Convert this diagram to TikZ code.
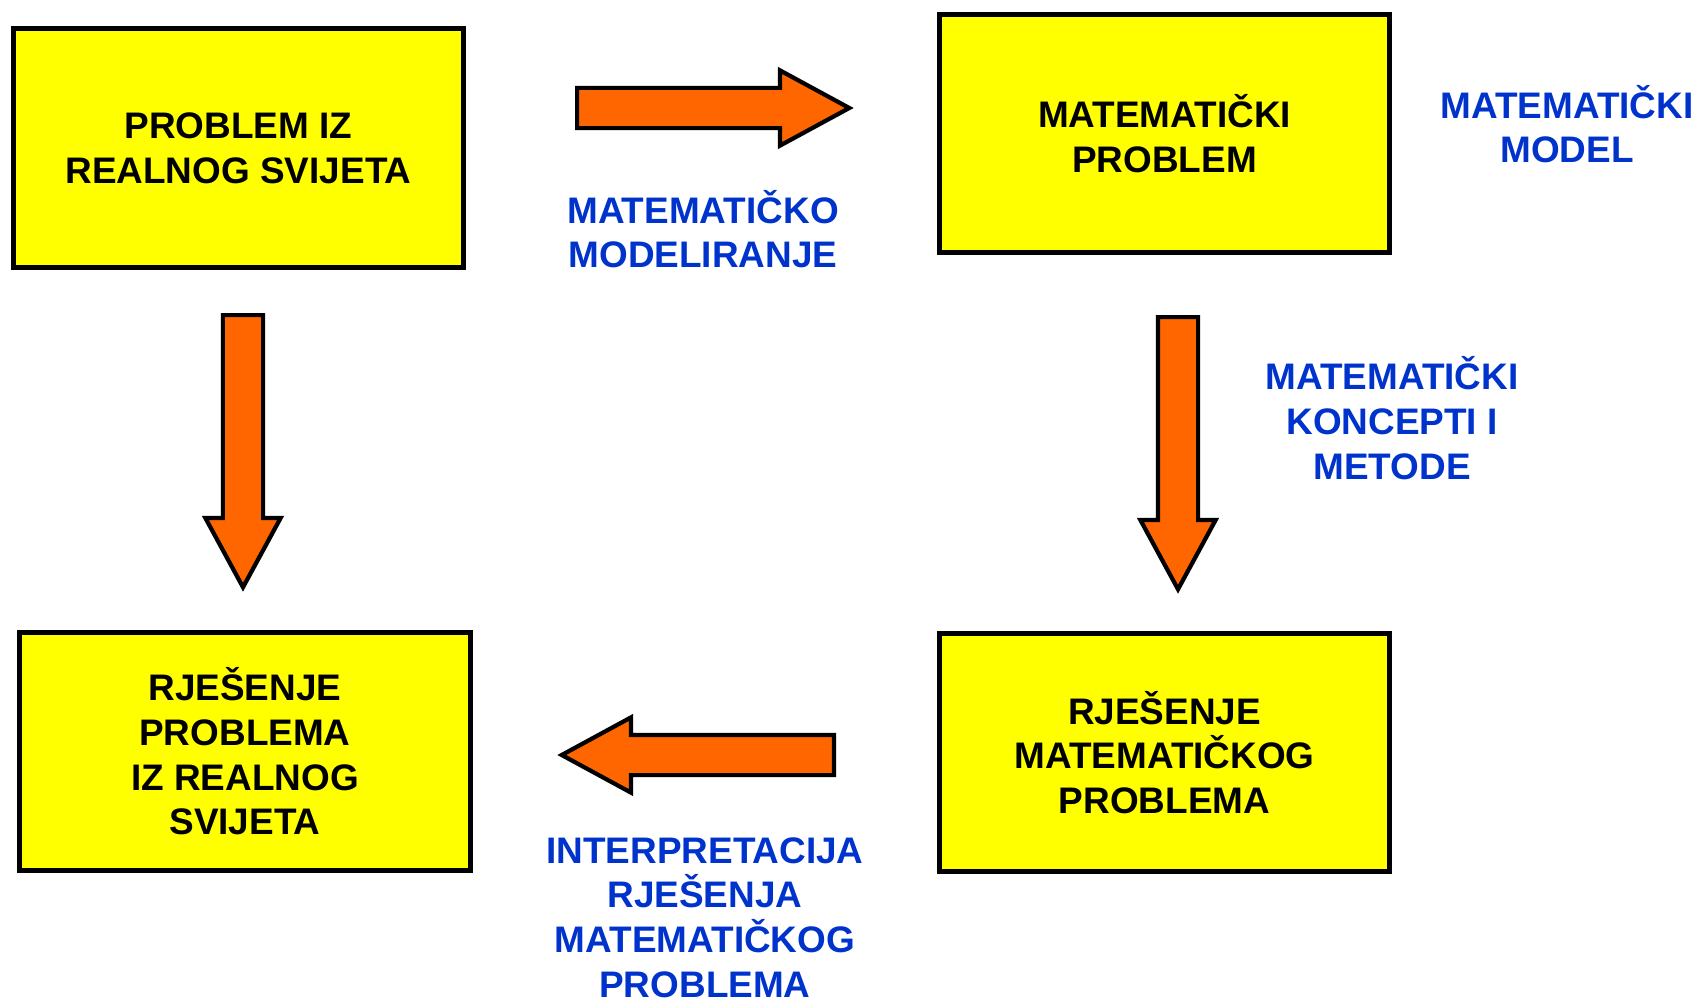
\documentclass[tikz,border=0pt]{standalone}
\usepackage{fontspec}
\setmainfont{Liberation Sans}
\usepackage{xcolor}
\usetikzlibrary{shapes.arrows, positioning}

\definecolor{boxyellow}{RGB}{255,255,0}
\definecolor{arrorange}{RGB}{255,102,0}
\definecolor{lblblue}{RGB}{0,51,204}

\begin{document}
\begin{tikzpicture}[
  x=0.01cm, y=-0.01cm,
  box/.style = {
    rectangle, draw=black, fill=boxyellow,
    line width=1.4pt,
    minimum width=4.5cm, minimum height=2.38cm,
    align=center, inner sep=0pt,
    font=\fontsize{10.5}{12.7}\selectfont\bfseries
  },
  lbl/.style = {
    align=center, inner sep=0pt, text=lblblue,
    font=\fontsize{10.5}{12.7}\selectfont\bfseries
  },
  blk/.style = {
    single arrow, draw=black, fill=arrorange,
    line width=1.2pt, anchor=tail,
    minimum height=2.72cm, inner xsep=0pt, inner ysep=0.18cm,
    single arrow head extend=0.175cm, single arrow tip angle=57
  }
]
\useasboundingbox (0,0) rectangle (1700,1000);

\node[box] (real)    at (238.5,148)    {PROBLEM IZ\\REALNOG SVIJETA};
\node[box] (matp)    at (1164.5,133.5) {MATEMATIČKI\\PROBLEM};
\node[box] (realsol) at (245,751.5)    {RJEŠENJE\\PROBLEMA\\IZ REALNOG\\SVIJETA};
\node[box] (matsol)  at (1164.5,752.5) {RJEŠENJE\\MATEMATIČKOG\\PROBLEMA};

\node[blk] (model)              at (575,108)  {};
\node[blk, rotate=-90] (solve)  at (1178,315) {};
\node[blk, rotate=180] (interp) at (836,755)  {};
\node[blk, rotate=-90] (back)   at (243,313)  {};

\node[lbl] (lblmod)   at (703,229)   {MATEMATIČKO\\MODELIRANJE};
\node[lbl] (lblmodel) at (1567,124)  {MATEMATIČKI\\MODEL};
\node[lbl] (lblmet)   at (1392,418)  {MATEMATIČKI\\KONCEPTI I\\METODE};
\node[lbl] (lblint)   at (705,917.5) {INTERPRETACIJA\\RJEŠENJA\\MATEMATIČKOG\\PROBLEMA};
\end{tikzpicture}
\end{document}
